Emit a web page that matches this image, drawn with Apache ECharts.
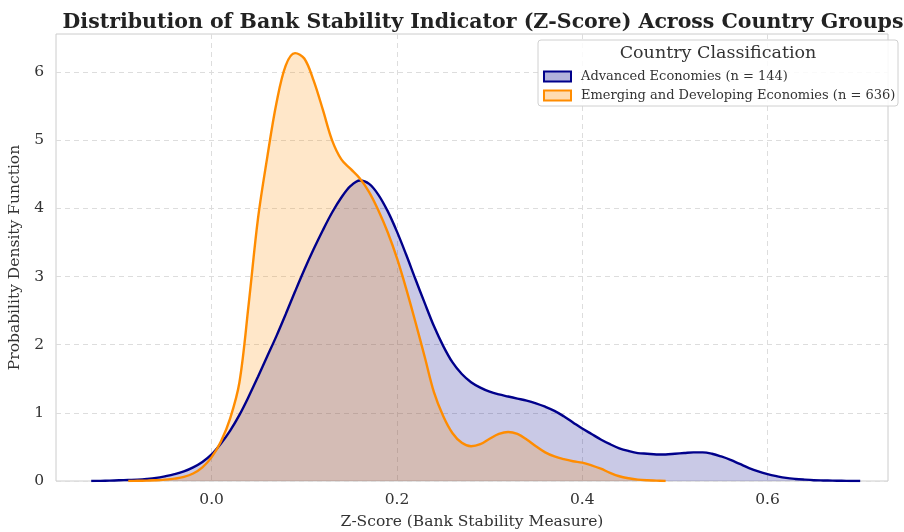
<!DOCTYPE html>
<html>
<head>
<meta charset="utf-8">
<script src="https://cdn.jsdelivr.net/npm/echarts@6/dist/echarts.min.js"></script>
<style>
  html, body { margin: 0; padding: 0; background: #ffffff; }
  #chart { width: 904px; height: 532px; }
</style>
</head>
<body>
<div id="chart"></div>
<script>
// ---- Data ----
const titleText = 'Distribution of Bank Stability Indicator (Z-Score) Across Country Groups';
const xAxisName = 'Z-Score (Bank Stability Measure)';
const yAxisName = 'Probability Density Function';
const legendTitle = 'Country Classification';
const seriesNames = ['Advanced Economies (n = 144)', 'Emerging and Developing Economies (n = 636)'];
const xTicks = [0.0, 0.2, 0.4, 0.6];
const yTicks = [0, 1, 2, 3, 4, 5, 6];

// Advanced economies KDE: z-score values (x) and densities (y)
const advX = [-0.13, -0.12, -0.11, -0.10, -0.09, -0.08, -0.07, -0.06, -0.05, -0.04,
  -0.03, -0.02, -0.01, 0.00, 0.01, 0.02, 0.03, 0.04, 0.05, 0.06,
  0.07, 0.08, 0.09, 0.10, 0.11, 0.12, 0.13, 0.14, 0.15, 0.16,
  0.17, 0.18, 0.19, 0.20, 0.21, 0.22, 0.23, 0.24, 0.25, 0.26,
  0.27, 0.28, 0.29, 0.30, 0.31, 0.32, 0.33, 0.34, 0.35, 0.36,
  0.37, 0.38, 0.39, 0.40, 0.41, 0.42, 0.43, 0.44, 0.45, 0.46,
  0.47, 0.48, 0.49, 0.50, 0.51, 0.52, 0.53, 0.54, 0.55, 0.56,
  0.57, 0.58, 0.59, 0.60, 0.61, 0.62, 0.63, 0.64, 0.65, 0.66,
  0.67, 0.68, 0.69, 0.70];
const advY = [0.000, 0.002, 0.005, 0.010, 0.015, 0.020, 0.030, 0.045, 0.070, 0.100,
  0.14, 0.20, 0.28, 0.39, 0.55, 0.74, 0.97, 1.24, 1.53, 1.83,
  2.13, 2.45, 2.78, 3.10, 3.40, 3.68, 3.94, 4.16, 4.33, 4.41,
  4.36, 4.20, 3.96, 3.66, 3.32, 2.96, 2.61, 2.27, 1.98, 1.74,
  1.57, 1.45, 1.37, 1.31, 1.27, 1.24, 1.21, 1.18, 1.14, 1.09,
  1.03, 0.95, 0.86, 0.77, 0.69, 0.61, 0.54, 0.48, 0.44, 0.41,
  0.40, 0.39, 0.39, 0.40, 0.41, 0.42, 0.42, 0.40, 0.36, 0.31,
  0.25, 0.19, 0.14, 0.10, 0.07, 0.045, 0.030, 0.020, 0.012, 0.008,
  0.005, 0.003, 0.001, 0.000];

// Emerging and developing economies KDE
const emgX = [-0.09, -0.08, -0.07, -0.06, -0.05, -0.04, -0.03, -0.02, -0.01, 0.00,
  0.01, 0.02, 0.03, 0.04, 0.05, 0.06, 0.07, 0.08, 0.09, 0.10,
  0.11, 0.12, 0.13, 0.14, 0.15, 0.16, 0.17, 0.18, 0.19, 0.20,
  0.21, 0.22, 0.23, 0.24, 0.25, 0.26, 0.27, 0.28, 0.29, 0.30,
  0.31, 0.32, 0.33, 0.34, 0.35, 0.36, 0.37, 0.38, 0.39, 0.40,
  0.41, 0.42, 0.43, 0.44, 0.45, 0.46, 0.47, 0.48, 0.49];
const emgY = [0.000, 0.003, 0.006, 0.010, 0.020, 0.035, 0.060, 0.11, 0.20, 0.35,
  0.58, 0.92, 1.45, 2.60, 3.85, 4.75, 5.55, 6.10, 6.28, 6.20,
  5.88, 5.45, 5.00, 4.72, 4.58, 4.44, 4.24, 3.97, 3.65, 3.27,
  2.82, 2.33, 1.82, 1.30, 0.95, 0.70, 0.56, 0.51, 0.54, 0.62,
  0.69, 0.72, 0.69, 0.61, 0.51, 0.42, 0.36, 0.32, 0.29, 0.27,
  0.23, 0.18, 0.12, 0.07, 0.04, 0.02, 0.01, 0.005, 0.000];

// ---- Chart ----
const serif = '"DejaVu Serif", serif';
const navy = '#00008b';
const orange = '#ff8c00';
const navyFill = 'rgba(0,0,139,0.3)';
const orangeFill = 'rgba(255,140,0,0.3)';

function pairs(xs, ys) { return xs.map((x, i) => [x, ys[i]]); }

const chart = echarts.init(document.getElementById('chart'), null, { renderer: 'canvas' });
chart.setOption({
  backgroundColor: '#ffffff',
  animation: false,
  title: {
    text: titleText,
    left: 478, top: 7, textAlign: 'center',
    textStyle: { fontFamily: serif, fontWeight: 'bold', fontSize: 20.5, color: '#222' }
  },
  grid: { left: 56, right: 16, top: 34, bottom: 51, outerBoundsMode: 'none', containLabel: false,
    show: true, borderColor: '#cccccc', borderWidth: 1, backgroundColor: 'transparent' },
  xAxis: {
    type: 'value', min: -0.168, max: 0.73,
    name: xAxisName, nameLocation: 'middle', nameGap: 33,
    nameTextStyle: { fontFamily: serif, fontSize: 15.5, color: '#333' },
    axisLine: { show: false },
    axisTick: { show: false, customValues: xTicks },
    axisLabel: { customValues: xTicks, margin: 11, fontFamily: serif, fontSize: 15.5, color: '#333',
      formatter: v => v.toFixed(1) },
    splitLine: { show: true, lineStyle: { color: '#dddddd', type: [5, 4], width: 1 } }
  },
  yAxis: {
    type: 'value', min: 0, max: 6.56,
    name: yAxisName, nameLocation: 'middle', nameGap: 28,
    nameTextStyle: { fontFamily: serif, fontSize: 15.5, color: '#333' },
    axisLine: { show: false },
    axisTick: { show: false, customValues: yTicks },
    axisLabel: { customValues: yTicks, margin: 12, fontFamily: serif, fontSize: 15.5, color: '#333' },
    splitLine: { show: true, lineStyle: { color: '#dddddd', type: [5, 4], width: 1 } }
  },
  legend: {
    z: 20,
    orient: 'vertical', left: 538, top: 65, itemWidth: 27, itemHeight: 10, itemGap: 6,
    textStyle: { fontFamily: serif, fontSize: 13, color: '#333', padding: [0, 0, 0, 5] },
    data: [
      { name: seriesNames[0], icon: 'rect', itemStyle: { color: navyFill, borderColor: navy, borderWidth: 2 } },
      { name: seriesNames[1], icon: 'rect', itemStyle: { color: orangeFill, borderColor: orange, borderWidth: 2 } }
    ]
  },
  graphic: [
    { type: 'rect', z: 5, shape: { x: 538, y: 40, width: 360, height: 66, r: 3 },
      style: { fill: 'rgba(255,255,255,0.85)', stroke: '#d0d0d0', lineWidth: 1 } },
    { type: 'text', z: 21, x: 718, y: 53,
      style: { text: legendTitle, fontFamily: serif, fontSize: 17.5, fill: '#333', align: 'center', verticalAlign: 'middle' } }
  ],
  series: [
    {
      name: seriesNames[0], type: 'line', data: pairs(advX, advY), smooth: 0.35,
      showSymbol: false, symbol: 'none',
      lineStyle: { color: navy, width: 2.4 },
      itemStyle: { color: navy },
      areaStyle: { color: navyFill, origin: 'start' }
    },
    {
      name: seriesNames[1], type: 'line', data: pairs(emgX, emgY), smooth: 0.35,
      showSymbol: false, symbol: 'none',
      lineStyle: { color: orange, width: 2.4 },
      itemStyle: { color: orange },
      areaStyle: { color: orangeFill, origin: 'start' }
    }
  ]
});
</script>
</body>
</html>
